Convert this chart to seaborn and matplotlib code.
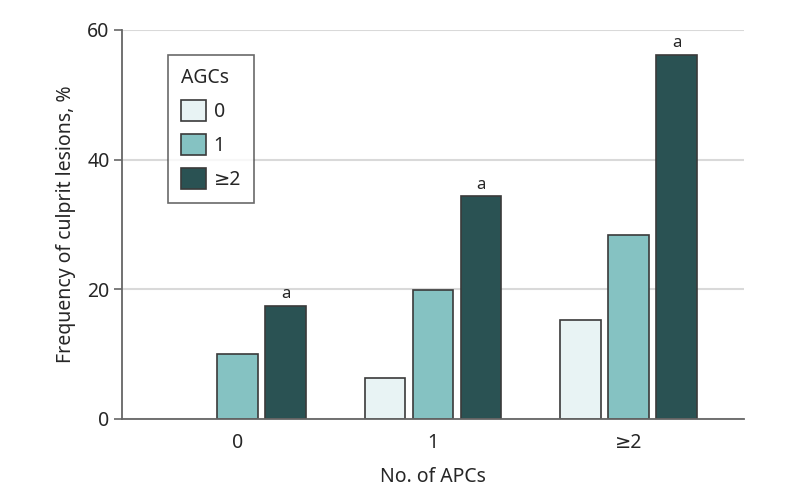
import matplotlib
matplotlib.use("Agg")
import matplotlib.pyplot as plt
from matplotlib.patches import Patch
import pandas as pd
import seaborn as sns

# data
apc_groups = ["0", "1", "≥2"]
agc_levels = ["0", "1", "≥2"]
freq_agc0 = [0.0, 6.3, 15.3]
freq_agc1 = [10.0, 19.9, 28.4]
freq_agc2 = [17.5, 34.4, 56.2]
sig_marks = ["a", "a", "a"]  # over the AGC ≥2 bars

colors = ["#e8f3f4", "#85c2c2", "#2a5253"]

df = pd.DataFrame({
    "APC": apc_groups * 3,
    "AGC": [lvl for lvl in agc_levels for _ in apc_groups],
    "freq": freq_agc0 + freq_agc1 + freq_agc2,
})

sns.set_theme(style="white")
plt.rcParams["font.family"] = ["Noto Sans", "DejaVu Sans"]

fig = plt.figure(figsize=(7.94, 5.04), dpi=100)
ax = fig.add_axes([0.1537, 0.1687, 0.7833, 0.7718])

ax.yaxis.grid(True, color="#d9d9d9", linewidth=1.5, zorder=0)
ax.set_axisbelow(True)

sns.barplot(
    data=df, x="APC", y="freq", hue="AGC",
    order=apc_groups, hue_order=agc_levels,
    palette=colors, saturation=1, width=0.737, gap=0.15,
    edgecolor="#3a3a3a", linewidth=1.2, legend=False, ax=ax,
)

# hide the zero-height bar outline
for bar in ax.patches:
    if bar.get_height() == 0:
        bar.set_visible(False)

# significance marks above the top AGC bars
top = ax.containers[2]
for bar, mark in zip(top, sig_marks):
    ax.text(bar.get_x() + bar.get_width() / 2, bar.get_height() + 0.5, mark,
            ha="center", va="bottom", fontsize=12)

ax.set_ylim(0, 60)
ax.set_yticks([0, 20, 40, 60])
ax.set_xlim(-0.59, 2.59)

sns.despine(ax=ax)
for side in ["left", "bottom"]:
    ax.spines[side].set_color("#666666")
    ax.spines[side].set_linewidth(1.3)
ax.tick_params(axis="y", length=6, width=1.2, color="#666666", labelsize=14, pad=3, left=True)
ax.tick_params(axis="x", length=0, labelsize=14, pad=10)

ax.set_xlabel("No. of APCs", fontsize=14, labelpad=10)
ax.set_ylabel("Frequency of culprit lesions, %", fontsize=14, labelpad=8)

handles = [Patch(facecolor=c, edgecolor="#3a3a3a", linewidth=1.2, label=l)
           for c, l in zip(colors, agc_levels)]
leg = ax.legend(handles=handles, title="AGCs", loc="upper left",
                bbox_to_anchor=(0.074, 0.936), borderaxespad=0,
                fontsize=14, title_fontsize=14, frameon=True, fancybox=False,
                handlelength=1.3, handleheight=1.3, handletextpad=0.4,
                borderpad=0.65, labelspacing=0.62)
leg.get_frame().set_edgecolor("#444444")
leg.get_frame().set_linewidth(1.2)
leg._legend_box.align = "left"

fig.savefig("out.png", dpi=100)
